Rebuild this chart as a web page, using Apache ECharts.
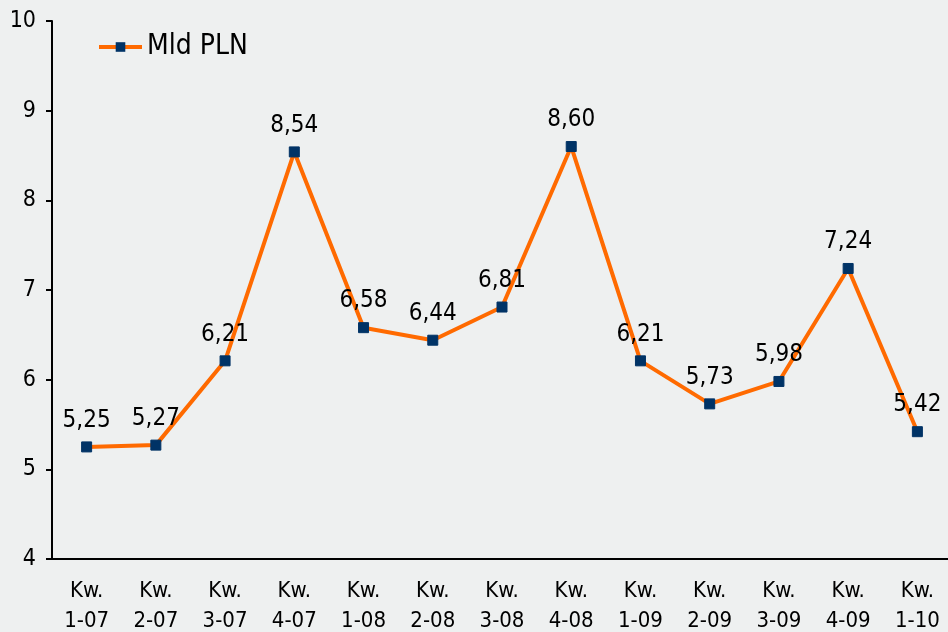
<!DOCTYPE html>
<html lang="pl">
<head>
	<meta charset="UTF-8">
	<script src="https://cdn.jsdelivr.net/npm/echarts@6/dist/echarts.min.js"></script>
	<title>Mld PLN</title>
	<style>
		html, body { margin: 0; padding: 0; background: #eef0f0; }
		#chart { width: 948px; height: 632px; }
	</style>
</head>
<body>
	<div id="chart"></div>
	<script>
		// dane
		var quarters = ['Kw.\n1-07', 'Kw.\n2-07', 'Kw.\n3-07', 'Kw.\n4-07', 'Kw.\n1-08', 'Kw.\n2-08', 'Kw.\n3-08',
			'Kw.\n4-08', 'Kw.\n1-09', 'Kw.\n2-09', 'Kw.\n3-09', 'Kw.\n4-09', 'Kw.\n1-10'];
		var values = [5.25, 5.27, 6.21, 8.54, 6.58, 6.44, 6.81, 8.60, 6.21, 5.73, 5.98, 7.24, 5.42];
		var seriesName = 'Mld PLN';

		var font = '"DejaVu Sans Condensed", "DejaVu Sans", sans-serif';
		var chart = echarts.init(document.getElementById('chart'));

		var option = {
			backgroundColor: '#eef0f0',
			animation: false,
			grid: { left: 52, right: -4, top: 21, bottom: 73, outerBoundsMode: 'none', containLabel: false },
			legend: {
				left: 92, top: 28,
				itemWidth: 43, itemHeight: 12, itemGap: 8,
				lineStyle: { width: 4 },
				textStyle: { fontFamily: font, fontSize: 28, color: '#000' },
				data: [seriesName]
			},
			xAxis: {
				type: 'category',
				data: quarters,
				boundaryGap: true,
				axisLine: { lineStyle: { color: '#000', width: 2 } },
				axisTick: { alignWithLabel: false, length: 6, lineStyle: { color: '#000', width: 2 } },
				axisLabel: { fontFamily: font, fontSize: 22, color: '#000', lineHeight: 30, margin: 17, interval: 0 }
			},
			yAxis: {
				type: 'value',
				min: 4, max: 10, interval: 1,
				axisLine: { show: true, lineStyle: { color: '#000', width: 2 } },
				axisTick: { show: true, length: 6, lineStyle: { color: '#000', width: 2 } },
				axisLabel: { fontFamily: font, fontSize: 23, color: '#000', margin: 16 },
				splitLine: { show: false }
			},
			series: [{
				name: seriesName,
				type: 'line',
				data: values,
				symbol: 'rect',
				symbolSize: 10,
				lineStyle: { color: '#ff6a00', width: 4 },
				itemStyle: { color: '#003366', borderColor: '#003366' },
				label: {
					show: true,
					position: 'top',
					distance: 9,
					fontFamily: font,
					fontSize: 24,
					color: '#000',
					formatter: function (p) { return p.value.toFixed(2).replace('.', ','); }
				}
			}]
		};
		chart.setOption(option);
	</script>
</body>
</html>
